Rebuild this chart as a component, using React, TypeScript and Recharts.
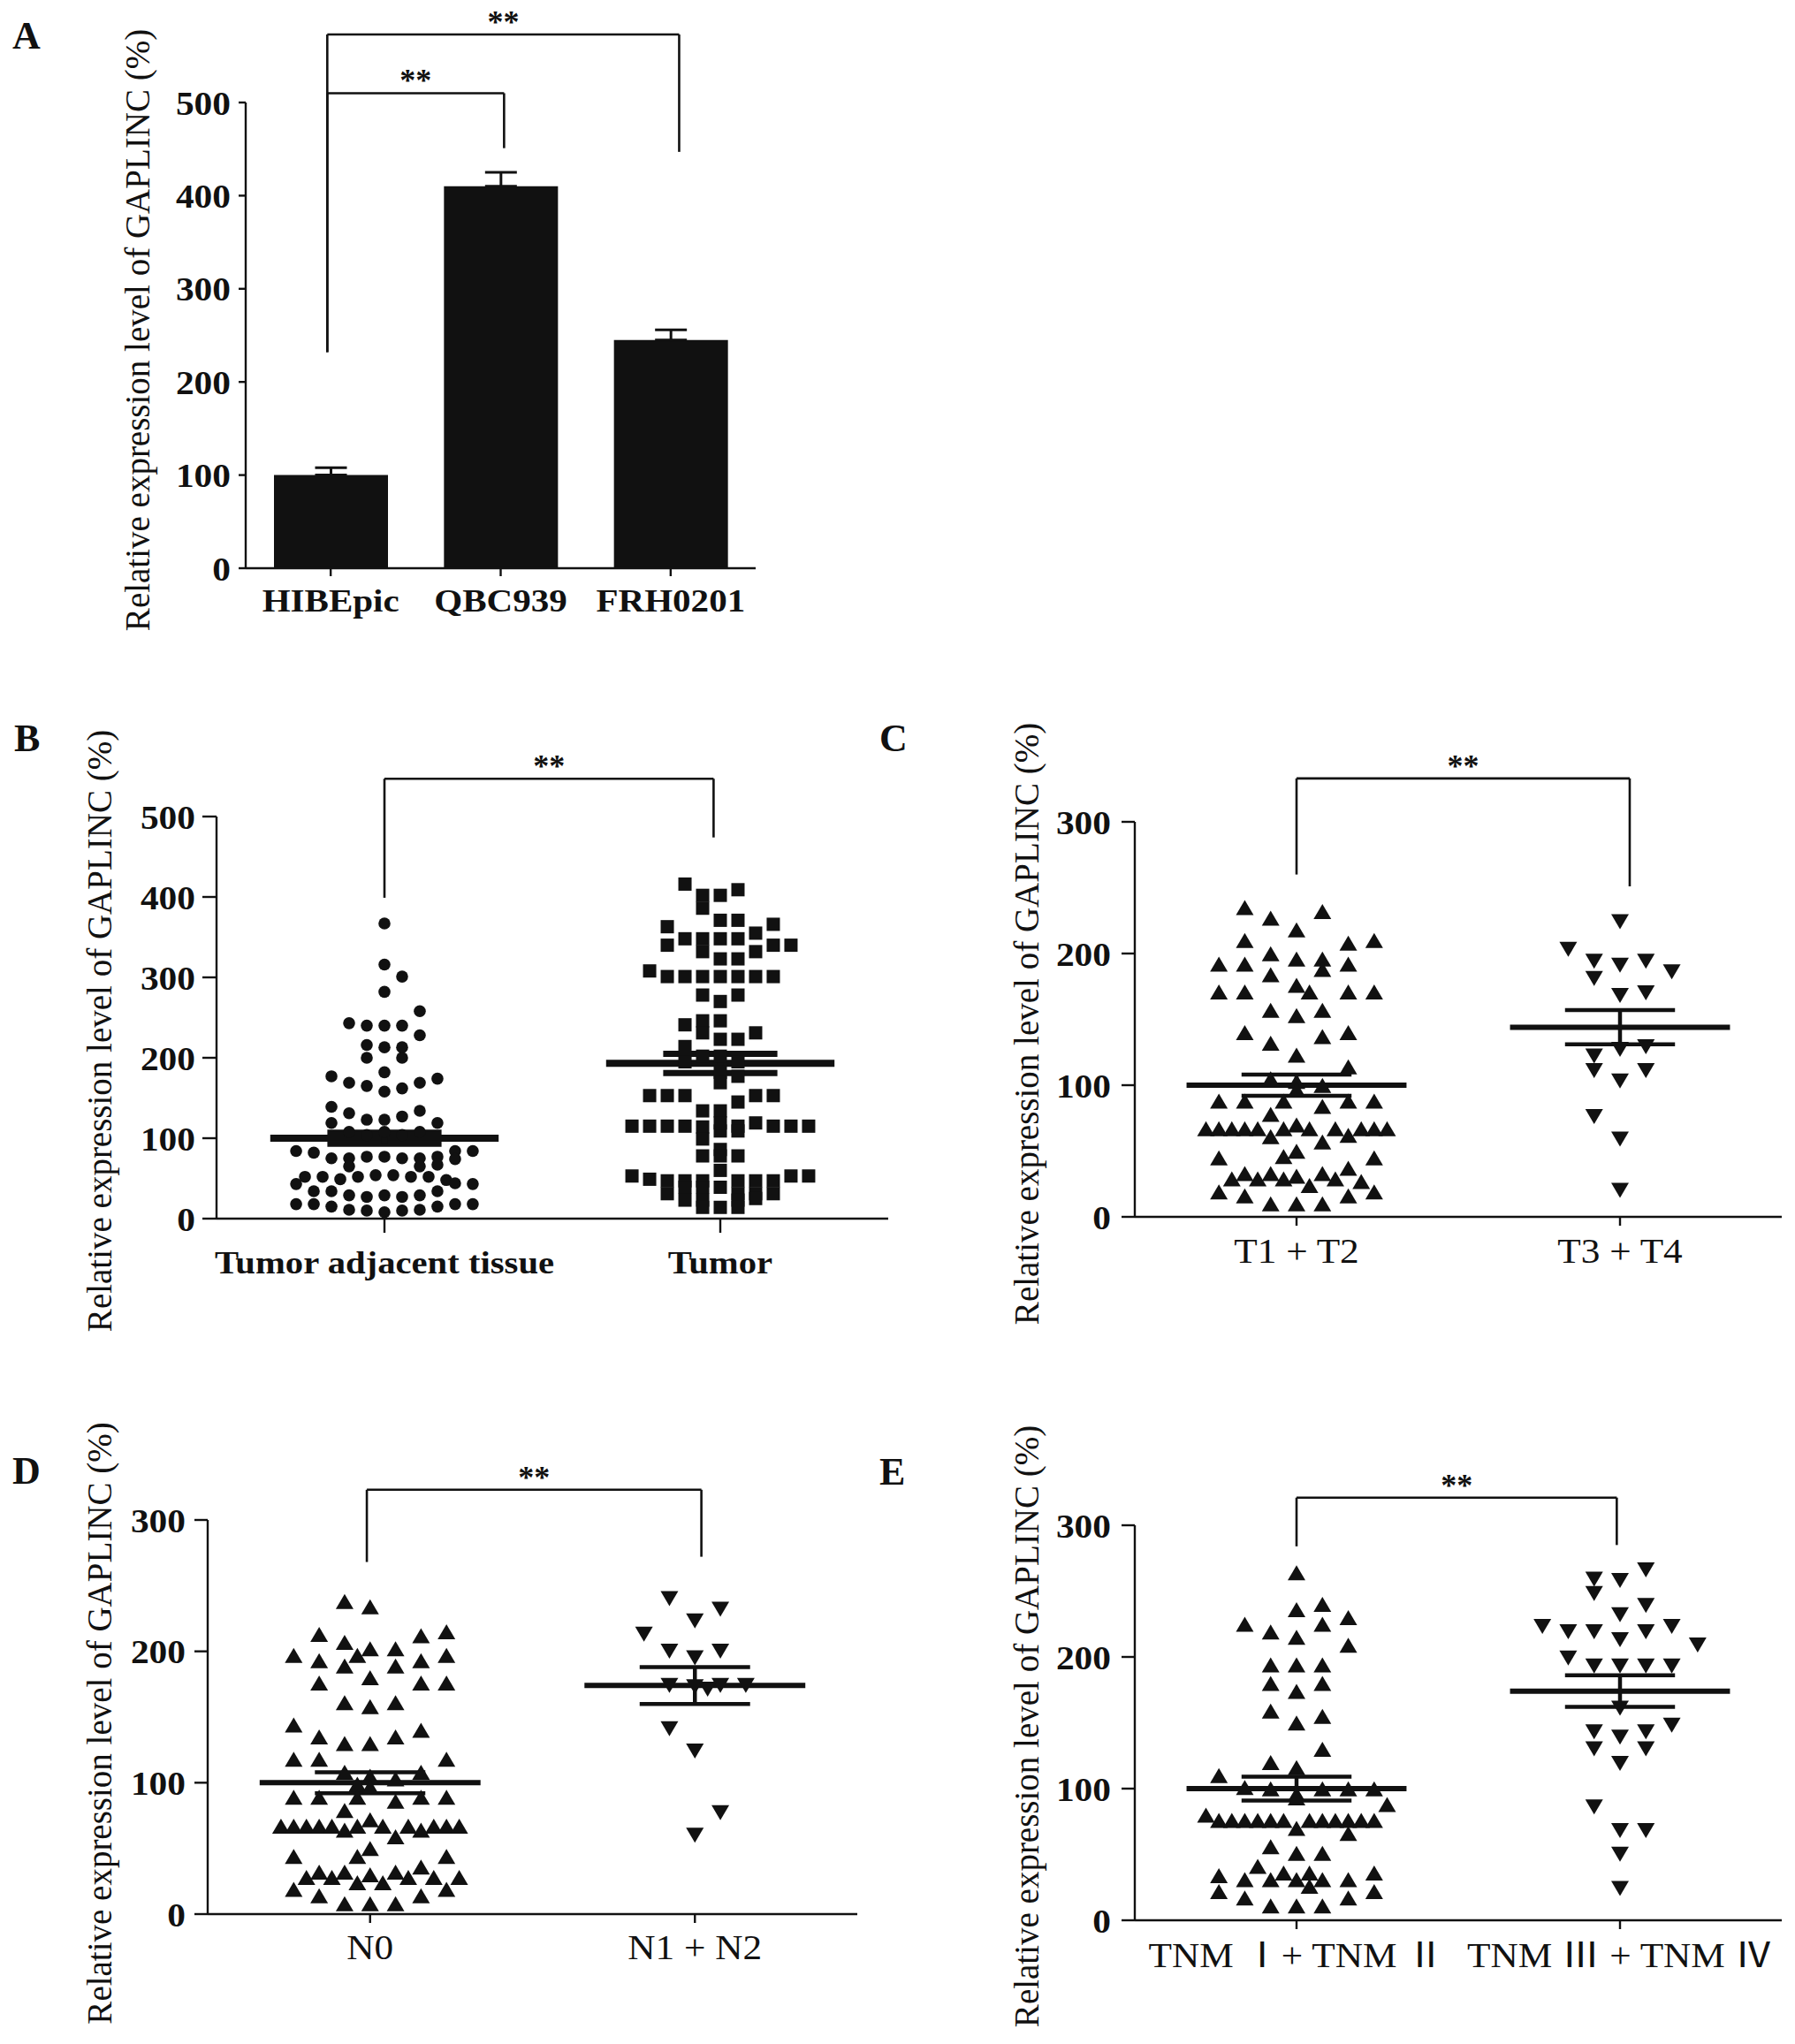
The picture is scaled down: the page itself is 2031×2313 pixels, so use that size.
import React from "react";
import {
  Bar,
  BarChart,
  ErrorBar,
  ReferenceLine,
  Scatter,
  ScatterChart,
  XAxis,
  YAxis,
} from "recharts";

const SERIF = '"Liberation Serif", "Times New Roman", "Noto Sans CJK SC", serif';
const INK = "#111111";
const Y_TITLE = "Relative expression level of GAPLINC (%)";

// ---- panel A: cell lines ----
const cellLines = ["HIBEpic", "QBC939", "FRH0201"];
const cellLevels = [100, 410, 245];
const cellErrors = [8, 15, 11];
const ticks500 = [0, 100, 200, 300, 400, 500];
const ticks300 = [0, 100, 200, 300];

// brackets: x in category units, values in %
const bracketsA = [
  { x1: 0.98, x2: 2.02, top: 510, leftEnd: 232, rightEnd: 451 },
  { x1: 0.98, x2: 3.05, top: 573, leftEnd: 232, rightEnd: 447 },
];

// ---- panel B: tissue ---- points are [column slot, value]
const tissueGroups = ["Tumor adjacent tissue", "Tumor"];
const adjacentTissue: [number, number][] = [
  [0, 367], [0, 316], [2, 301], [0, 282], [4, 258], [-4, 243], [-2, 240], [0, 240], [2, 240],
  [4, 228], [-2, 216], [0, 213], [2, 213], [-2, 200], [2, 200], [0, 182], [-6, 177], [6, 174],
  [-4, 169], [-2, 165], [0, 158], [2, 162], [4, 169], [-6, 139], [4, 134], [-4, 131], [-2, 123],
  [0, 123], [2, 127], [-6, 119], [6, 119], [-4, 108], [-2, 104], [0, 108], [2, 104], [4, 108],
  [-10, 84], [-8, 82], [10, 84], [8, 84], [-6, 75], [-4, 75], [-2, 77], [0, 77], [2, 75], [4, 75],
  [6, 77], [8, 74], [-4, 65], [4, 65], [6, 67], [-9, 52], [-7, 52], [-5, 49], [-3, 52], [-1, 54],
  [1, 54], [3, 52], [5, 52], [7, 48], [-10, 43], [10, 43], [8, 44], [-8, 34], [-6, 34], [6, 34],
  [-4, 29], [-2, 27], [0, 29], [2, 27], [4, 29], [-10, 18], [-8, 18], [-6, 15], [-4, 11], [-2, 10],
  [0, 8], [2, 10], [4, 11], [6, 15], [8, 18], [10, 18],
];
const tumorTissue: [number, number][] = [
  [-4, 416], [2, 409], [0, 402], [-2, 402], [-2, 386], [0, 371], [2, 371], [-6, 363], [6, 366],
  [4, 355], [-4, 348], [-2, 348], [0, 348], [2, 348], [-6, 340], [6, 340], [8, 340], [-2, 332],
  [0, 323], [2, 323], [4, 332], [-8, 308], [-6, 301], [-4, 301], [-2, 301], [0, 301], [2, 301],
  [4, 301], [6, 301], [-2, 278], [2, 278], [0, 270], [-4, 241], [-2, 246], [0, 246], [-2, 231],
  [0, 223], [2, 223], [4, 231], [-4, 214], [-2, 202], [0, 202], [-4, 195], [2, 195], [0, 182],
  [2, 177], [0, 169], [-8, 153], [-6, 153], [-4, 153], [2, 145], [4, 153], [6, 153], [-2, 134],
  [0, 134], [-10, 115], [-8, 115], [-6, 115], [-4, 115], [-2, 114], [0, 109], [2, 115], [4, 119],
  [6, 115], [8, 115], [10, 115], [-2, 99], [2, 109], [0, 119], [0, 86], [0, 78], [-2, 78], [2, 78],
  [0, 60], [-10, 53], [-8, 49], [-6, 47], [-4, 47], [-2, 47], [2, 47], [4, 47], [6, 47], [8, 53],
  [10, 53], [-6, 31], [-4, 39], [-2, 39], [0, 39], [2, 31], [4, 31], [6, 31], [-4, 23], [-2, 23],
  [2, 23], [4, 25], [-2, 14], [0, 14], [2, 14],
];
const tissueMeans = [100, 193];
const tissueSems = [7, 12];
const bracketB = { x1: 1, x2: 1.98, top: 547, leftEnd: 399, rightEnd: 474 };

// ---- panel C: T stage ----
const tGroups = ["T1 + T2", "T3 + T4"];
const tEarly: [number, number][] = [
  [-4, 233], [2, 230], [-2, 225], [0, 216], [-4, 208], [4, 206], [6, 208], [-6, 190], [-4, 190],
  [-2, 198], [0, 194], [2, 194], [4, 190], [2, 186], [-2, 182], [-6, 169], [-4, 169], [0, 174],
  [1, 169], [4, 169], [6, 169], [-2, 155], [2, 155], [0, 151], [-4, 138], [2, 135], [4, 138],
  [-2, 130], [0, 121], [4, 112], [-2, 103], [0, 101], [2, 98], [0, 95], [-6, 86], [-4, 86],
  [-1, 86], [4, 86], [6, 86], [2, 82], [-2, 76], [-7, 65], [-6, 65], [-5, 65], [-4, 65], [-3, 65],
  [-2, 59], [-1, 65], [0, 68], [1, 65], [2, 55], [3, 65], [4, 60], [5, 65], [6, 65], [7, 65],
  [0, 48], [-1, 44], [-6, 43], [6, 43], [4, 35], [-5, 27], [-4, 31], [-3, 27], [-2, 31], [-1, 27],
  [0, 29], [1, 22], [2, 31], [3, 27], [5, 25], [-6, 17], [6, 17], [-4, 14], [4, 14], [-2, 8],
  [0, 8], [2, 8],
];
const tLate: [number, number][] = [
  [0, 226], [-4, 205], [-2, 196], [0, 193], [2, 196], [4, 188], [-2, 183], [0, 170], [2, 172],
  [-2, 124], [0, 129], [2, 131], [-2, 113], [2, 113], [0, 105], [-2, 78], [0, 61], [0, 22],
];
const tMeans = [100, 144];
const tSems = [8, 13];
const bracketC = { x1: 1, x2: 2.03, top: 333, leftEnd: 260, rightEnd: 251 };

// ---- panel D: N stage ----
const nGroups = ["N0", "N1 + N2"];
const nZero: [number, number][] = [
  [-2, 236], [0, 232], [-4, 211], [4, 210], [6, 213], [-2, 205], [0, 200], [2, 200], [-1, 195],
  [-6, 195], [6, 195], [-4, 191], [4, 191], [-2, 187], [2, 187], [0, 178], [-4, 174], [4, 174],
  [6, 174], [-2, 159], [2, 159], [0, 156], [-6, 142], [4, 138], [-4, 133], [2, 133], [-2, 128],
  [0, 128], [-6, 116], [-4, 116], [6, 116], [-2, 106], [4, 106], [0, 103], [2, 101], [-1, 97],
  [0, 95], [-6, 87], [-4, 87], [-1, 87], [4, 87], [6, 87], [2, 84], [-2, 77], [-7, 65], [-6, 65],
  [-5, 65], [-4, 65], [-3, 65], [-2, 62], [-1, 65], [0, 70], [1, 65], [2, 57], [3, 65], [4, 62],
  [5, 65], [6, 65], [7, 65], [0, 48], [-1, 42], [-6, 42], [6, 42], [4, 34], [-5, 26], [-4, 30],
  [-3, 26], [-2, 30], [-1, 22], [0, 28], [1, 22], [2, 30], [3, 26], [5, 26], [7, 26], [-6, 17],
  [6, 17], [-4, 12], [4, 12], [-2, 6], [0, 6], [2, 6],
];
const nPositive: [number, number][] = [
  [-2, 242], [2, 234], [0, 225], [-4, 215], [-2, 202], [0, 197], [2, 202], [-2, 176], [0, 175],
  [2, 176], [4, 176], [1, 173], [-2, 143], [0, 126], [2, 79], [0, 62],
];
const nMeans = [100, 174];
const nSems = [8, 14];
const bracketD = { x1: 0.99, x2: 2.02, top: 323, leftEnd: 268, rightEnd: 272 };

// ---- panel E: TNM stage ----
const tnmGroups = ["TNM Ⅰ+ TNM Ⅱ", "TNM Ⅲ + TNM Ⅳ"];
const tnmEarly: [number, number][] = [
  [0, 262], [0, 234], [2, 238], [4, 228], [-4, 223], [-2, 217], [2, 223], [0, 213], [4, 207],
  [-2, 192], [0, 192], [2, 192], [-2, 178], [2, 178], [0, 172], [-2, 157], [2, 153], [0, 148],
  [2, 128], [-2, 118], [0, 114], [-6, 108], [-4, 99], [-2, 98], [0, 94], [2, 98], [4, 98],
  [6, 98], [0, 91], [7, 86], [-7, 78], [-6, 74], [-5, 74], [-4, 74], [-3, 74], [-2, 74], [-1, 74],
  [0, 68], [1, 74], [2, 74], [3, 74], [4, 74], [5, 74], [6, 74], [4, 64], [-2, 54], [0, 49],
  [2, 49], [-3, 39], [-1, 34], [1, 34], [6, 34], [-6, 32], [-4, 29], [-2, 29], [0, 29], [2, 29],
  [4, 29], [1, 24], [-6, 20], [6, 20], [-4, 15], [4, 15], [-2, 9], [0, 9], [2, 9],
];
const tnmLate: [number, number][] = [
  [2, 268], [-2, 261], [0, 260], [-2, 250], [2, 241], [0, 234], [-6, 225], [-4, 221], [-2, 221],
  [0, 215], [2, 221], [4, 225], [6, 211], [-4, 201], [-2, 195], [0, 195], [2, 195], [4, 195],
  [0, 163], [4, 150], [-2, 145], [0, 141], [2, 145], [-2, 132], [2, 132], [0, 121], [-2, 88],
  [0, 70], [2, 70], [0, 52], [0, 26],
];
const tnmMeans = [100, 174];
const tnmSems = [9, 12];
const bracketE = { x1: 1, x2: 1.99, top: 321, leftEnd: 284, rightEnd: 285 };

// ---------- markers ----------
const Circle = (p: any) => <circle cx={p.cx} cy={p.cy} r={6.8} fill={INK} />;
const Square = (p: any) => (
  <rect x={p.cx - 7.5} y={p.cy - 7.5} width={15} height={15} fill={INK} />
);
const TriUp = (p: any) => (
  <path
    d={`M${p.cx},${p.cy - 11.3} L${p.cx + 10},${p.cy + 5.7} L${p.cx - 10},${p.cy + 5.7} Z`}
    fill={INK}
  />
);
const TriDown = (p: any) => (
  <path
    d={`M${p.cx},${p.cy + 11.3} L${p.cx + 10},${p.cy - 5.7} L${p.cx - 10},${p.cy - 5.7} Z`}
    fill={INK}
  />
);

// the scanned figure is a little wider than its type, so ticks are stretched sideways
const stretchedTick =
  (fontSize: number, weight: number, stretch: number, axis: "x" | "y", names?: string[]) =>
  (props: any) => {
    const { x, y, payload } = props;
    const label = names ? names[payload.value - 1] : String(payload.value);
    return (
      <text
        transform={`translate(${x},${y}) scale(${stretch},1)`}
        textAnchor={axis === "x" ? "middle" : "end"}
        dy={axis === "x" ? "0.71em" : "0.355em"}
        fontSize={fontSize}
        fontWeight={weight}
        fontFamily={SERIF}
        fill={INK}
      >
        {label}
      </text>
    );
  };

type Bracket = { x1: number; x2: number; top: number; leftEnd: number; rightEnd: number };

const bracketLines = (b: Bracket, key: string) => [
  <ReferenceLine
    key={key + "h"}
    segment={[
      { x: b.x1, y: b.top },
      { x: b.x2, y: b.top },
    ]}
    stroke={INK}
    strokeWidth={2.6}
    ifOverflow="visible"
    label={{
      value: "**",
      position: "top",
      offset: 2,
      fontSize: 36,
      fontWeight: 700,
      fill: INK,
      fontFamily: SERIF,
    }}
  />,
  <ReferenceLine
    key={key + "l"}
    segment={[
      { x: b.x1, y: b.top },
      { x: b.x1, y: b.leftEnd },
    ]}
    stroke={INK}
    strokeWidth={2.6}
    ifOverflow="visible"
  />,
  <ReferenceLine
    key={key + "r"}
    segment={[
      { x: b.x2, y: b.top },
      { x: b.x2, y: b.rightEnd },
    ]}
    stroke={INK}
    strokeWidth={2.6}
    ifOverflow="visible"
  />,
];

const meanLines = (means: number[], sems: number[], meanWidth: number, capWidth: number) =>
  means.flatMap((m, i) => {
    const c = i + 1;
    const s = sems[i];
    return [
      <ReferenceLine key={`m${i}`} segment={[{ x: c - 0.34, y: m }, { x: c + 0.34, y: m }]} stroke={INK} strokeWidth={meanWidth} ifOverflow="visible" />,
      <ReferenceLine key={`u${i}`} segment={[{ x: c - 0.17, y: m + s }, { x: c + 0.17, y: m + s }]} stroke={INK} strokeWidth={capWidth} ifOverflow="visible" />,
      <ReferenceLine key={`d${i}`} segment={[{ x: c - 0.17, y: m - s }, { x: c + 0.17, y: m - s }]} stroke={INK} strokeWidth={capWidth} ifOverflow="visible" />,
      <ReferenceLine key={`v${i}`} segment={[{ x: c, y: m - s }, { x: c, y: m + s }]} stroke={INK} strokeWidth={capWidth} ifOverflow="visible" />,
    ];
  });

const axisLine = { stroke: INK, strokeWidth: 2.4 };
const tickLine = { stroke: INK, strokeWidth: 2.4 };
const yTick = stretchedTick(38, 700, 1.09, "y");

type Layout = {
  left: number;
  top: number;
  width: number;
  height: number;
  margin: { top: number; right: number; bottom: number; left: number };
  titleDx: number;
  titleDy: number;
  xTickSize: number;
  xTickMargin: number;
  yTickSize: number;
  yTickMargin: number;
};

const yTitle = (l: Layout) => ({
  value: Y_TITLE,
  angle: -90,
  position: "center" as const,
  dx: l.titleDx,
  dy: l.titleDy,
  fontSize: 39,
  fill: INK,
  fontFamily: SERIF,
});

const layoutA: Layout = { left: 0, top: 0, width: 900, height: 760, margin: { top: 116, right: 45, bottom: 17, left: 158 }, titleDx: -63, titleDy: -6, xTickSize: 9, xTickMargin: 14, yTickSize: 8, yTickMargin: 9 };
const layoutB: Layout = { left: 0, top: 780, width: 1010, height: 760, margin: { top: 144, right: 5, bottom: 61, left: 125 }, titleDx: -73, titleDy: 15, xTickSize: 16, xTickMargin: 20, yTickSize: 16, yTickMargin: 8 };
const layoutC: Layout = { left: 1010, top: 780, width: 1021, height: 760, margin: { top: 150, right: 15, bottom: 63, left: 154 }, titleDx: -63, titleDy: 5, xTickSize: 10, xTickMargin: 14, yTickSize: 15, yTickMargin: 12 };
const layoutD: Layout = { left: 0, top: 1570, width: 1000, height: 743, margin: { top: 150, right: 30, bottom: 47, left: 115 }, titleDx: -63, titleDy: 7, xTickSize: 10, xTickMargin: 13, yTickSize: 15, yTickMargin: 10 };
const layoutE: Layout = { left: 1010, top: 1570, width: 1021, height: 743, margin: { top: 156, right: 15, bottom: 40, left: 154 }, titleDx: -63, titleDy: 4, xTickSize: 10, xTickMargin: 15, yTickSize: 15, yTickMargin: 12 };

const BarPanel = () => {
  const l = layoutA;
  const data = cellLines.map((name, i) => ({
    pos: i + 1,
    level: cellLevels[i],
    err: [0, cellErrors[i]],
  }));
  return (
    <div style={{ position: "absolute", left: l.left, top: l.top }}>
      <BarChart width={l.width} height={l.height} data={data} margin={l.margin} barSize={129}>
        <XAxis
          dataKey="pos"
          type="number"
          domain={[0.5, 3.5]}
          ticks={[1, 2, 3]}
          interval={0}
          height={100}
          axisLine={axisLine}
          tickLine={tickLine}
          tickSize={l.xTickSize}
          tickMargin={l.xTickMargin}
          tick={stretchedTick(36, 700, 1.14, "x", cellLines)}
        />
        <YAxis
          type="number"
          domain={[0, 500]}
          ticks={ticks500}
          interval={0}
          width={120}
          axisLine={axisLine}
          tickLine={tickLine}
          tickSize={l.yTickSize}
          tickMargin={l.yTickMargin}
          tick={yTick}
          label={yTitle(l)}
        />
        <Bar dataKey="level" fill={INK} isAnimationActive={false}>
          <ErrorBar dataKey="err" width={18} strokeWidth={3} stroke={INK} direction="y" />
        </Bar>
        {bracketsA.flatMap((b, i) => bracketLines(b, `a${i}`))}
      </BarChart>
    </div>
  );
};

type DotProps = {
  l: Layout;
  groups: string[];
  series: [number, number][][];
  shapes: ((p: any) => React.ReactElement)[];
  slot: number;
  yMax: number;
  ticks: number[];
  means: number[];
  sems: number[];
  meanWidth: number;
  capWidth: number;
  bracket: Bracket;
  xTick: (p: any) => React.ReactElement;
};

const DotPanel = ({ l, groups, series, shapes, slot, yMax, ticks, means, sems, meanWidth, capWidth, bracket, xTick }: DotProps) => (
  <div style={{ position: "absolute", left: l.left, top: l.top }}>
    <ScatterChart width={l.width} height={l.height} margin={l.margin}>
      <XAxis
        dataKey="x"
        type="number"
        domain={[0.5, 2.5]}
        ticks={[1, 2]}
        interval={0}
        height={100}
        axisLine={axisLine}
        tickLine={tickLine}
        tickSize={l.xTickSize}
        tickMargin={l.xTickMargin}
        tick={xTick}
      />
      <YAxis
        dataKey="y"
        type="number"
        domain={[0, yMax]}
        ticks={ticks}
        interval={0}
        width={120}
        axisLine={axisLine}
        tickLine={tickLine}
        tickSize={l.yTickSize}
        tickMargin={l.yTickMargin}
        tick={yTick}
        label={yTitle(l)}
      />
      {series.map((pts, i) => (
        <Scatter
          key={i}
          name={groups[i]}
          data={pts.map(([s, v]) => ({ x: i + 1 + s * slot, y: v }))}
          shape={shapes[i]}
          isAnimationActive={false}
        />
      ))}
      {meanLines(means, sems, meanWidth, capWidth)}
      {bracketLines(bracket, "b")}
    </ScatterChart>
  </div>
);

const PanelLetter = ({ text, x, baseline }: { text: string; x: number; baseline: number }) => (
  <div
    style={{
      position: "absolute",
      left: x,
      top: baseline - 37,
      fontFamily: SERIF,
      fontSize: 44,
      fontWeight: 700,
      lineHeight: 1,
      color: INK,
    }}
  >
    {text}
  </div>
);

export default function App() {
  return (
    <div style={{ position: "absolute", left: 0, top: 0, width: 2031, height: 2313, background: "#ffffff" }}>
      <BarPanel />
      <DotPanel l={layoutB} groups={tissueGroups} series={[adjacentTissue, tumorTissue]} shapes={[Circle, Square]} slot={0.0263} yMax={500} ticks={ticks500} means={tissueMeans} sems={tissueSems} meanWidth={8} capWidth={7} bracket={bracketB} xTick={stretchedTick(36, 700, 1.13, "x", tissueGroups)} />
      <DotPanel l={layoutC} groups={tGroups} series={[tEarly, tLate]} shapes={[TriUp, TriDown]} slot={0.04} yMax={300} ticks={ticks300} means={tMeans} sems={tSems} meanWidth={6} capWidth={4.5} bracket={bracketC} xTick={stretchedTick(39, 400, 1.11, "x", tGroups)} />
      <DotPanel l={layoutD} groups={nGroups} series={[nZero, nPositive]} shapes={[TriUp, TriDown]} slot={0.0392} yMax={300} ticks={ticks300} means={nMeans} sems={nSems} meanWidth={6} capWidth={4.5} bracket={bracketD} xTick={stretchedTick(39, 400, 1.11, "x", nGroups)} />
      <DotPanel l={layoutE} groups={tnmGroups} series={[tnmEarly, tnmLate]} shapes={[TriUp, TriDown]} slot={0.04} yMax={300} ticks={ticks300} means={tnmMeans} sems={tnmSems} meanWidth={6} capWidth={4.5} bracket={bracketE} xTick={stretchedTick(39, 400, 1.11, "x", tnmGroups)} />
      <PanelLetter text="A" x={14} baseline={56} />
      <PanelLetter text="B" x={16} baseline={851} />
      <PanelLetter text="C" x={995} baseline={851} />
      <PanelLetter text="D" x={14} baseline={1680} />
      <PanelLetter text="E" x={995} baseline={1681} />
    </div>
  );
}
